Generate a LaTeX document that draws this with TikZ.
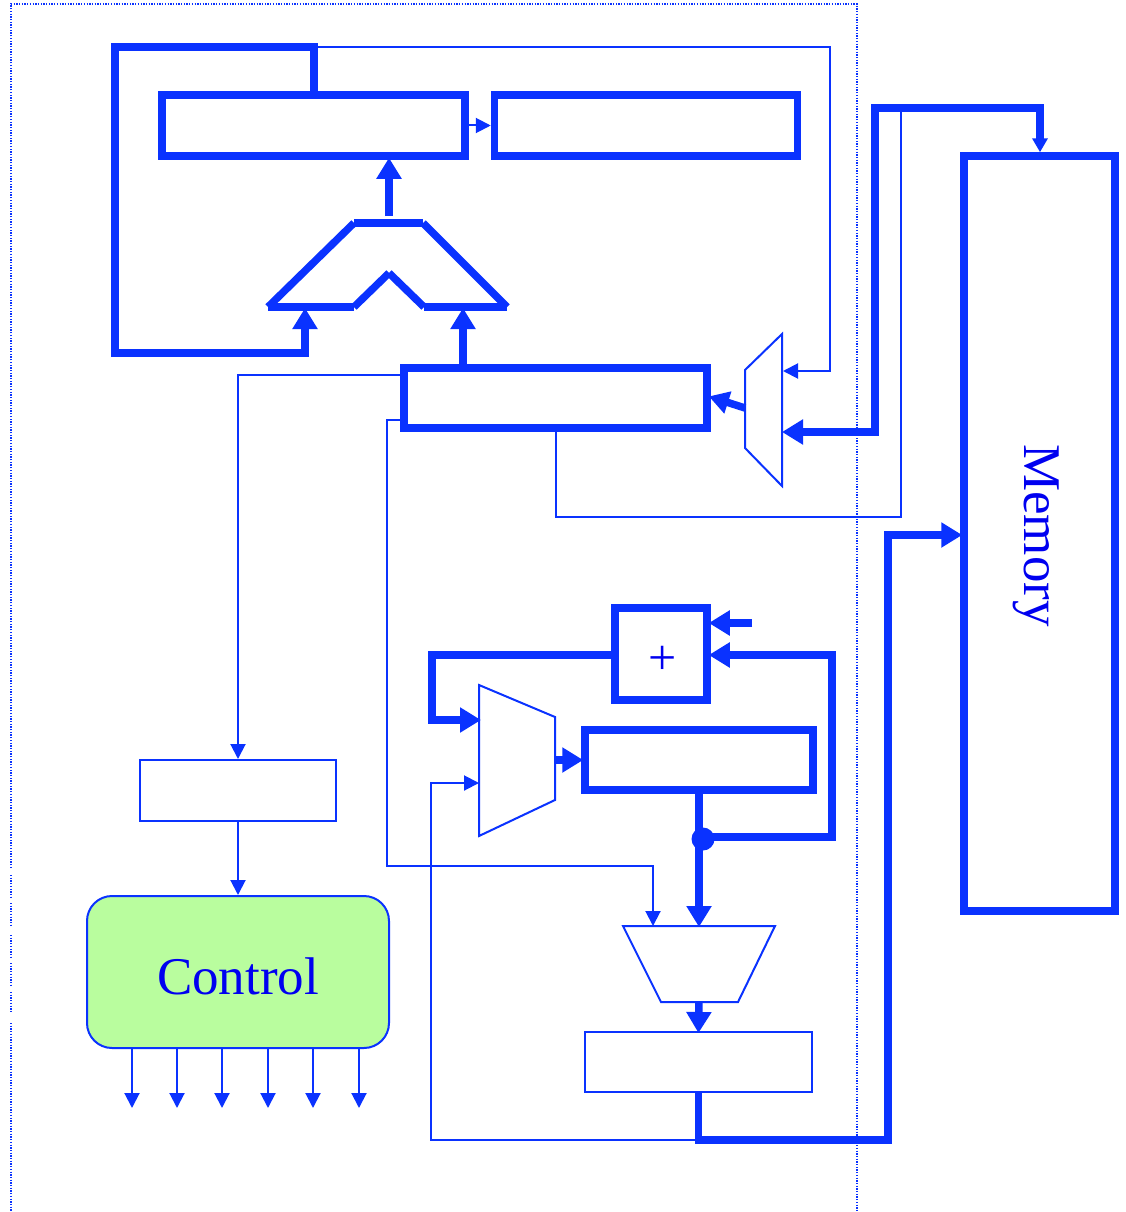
\documentclass[tikz,border=0pt]{standalone}
\usepackage{fontspec}
\setmainfont{Liberation Serif}
\usepackage{xcolor}
\usetikzlibrary{arrows.meta,positioning,calc}
\definecolor{Wire}{HTML}{0A32FF}
\definecolor{Label}{HTML}{0000F0}
\definecolor{CtrlFill}{HTML}{B9FD9E}
\begin{document}
\begin{tikzpicture}[
  x=1pt,y=-1pt,
  reg/.style={draw=Wire,line width=7.5pt,inner sep=0pt},
  thinreg/.style={draw=Wire,line width=2pt,inner sep=0pt},
  bus/.style={draw=Wire,line width=7.5pt},
  busarr/.style={bus,shorten >=-2pt,-{Triangle[length=21pt,width=24pt]}},
  wire/.style={draw=Wire,line width=2pt},
  wirearr/.style={wire,-{Triangle[length=15pt,width=15pt]}},
  bigtext/.style={font=\fontsize{53}{60}\selectfont,text=Label},
  frameline/.style={draw=Wire,line width=1.2pt,dash pattern=on 1.3pt off 1.4pt}]
\useasboundingbox (0,0) rectangle (1126,1212);
\draw[frameline] (11,868) -- (11,4) -- (857,4) -- (857,1212);
\foreach \a/\b in {875/897,903/925,935/958,963/987,992/1013,1023/1212}
  \draw[frameline] (11,\a) -- (11,\b);
% registers
\node[reg,minimum width=303pt,minimum height=61pt] (pc) at (313.5,125.5) {};
\node[reg,minimum width=303pt,minimum height=61pt,right=22pt of pc] (mar) {};
\node[reg,minimum width=303pt,minimum height=60pt] (mbr) at (555.5,398) {};
\node[reg,minimum width=151pt,minimum height=755pt] (mem) at (1039.5,533.5) {};
\node[bigtext,rotate=-90] (memlabel) at (1036,535.5) {Memory};
\node[reg,minimum width=92pt,minimum height=92pt] (adder) at (661,654) {};
\node[font=\fontsize{50}{60}\selectfont,text=Label] (plus) at (663,660) {+};
\node[reg,minimum width=228pt,minimum height=60pt] (acc) at (699,760) {};
\node[thinreg,minimum width=227pt,minimum height=60pt] (latch) at (698.5,1062) {};
\node[thinreg,minimum width=196pt,minimum height=61pt] (ir) at (238,790.5) {};
\node[thinreg,fill=CtrlFill,rounded corners=25pt,minimum width=302pt,minimum height=152pt,below=73pt of ir] (ctrl) {};
\node[bigtext] (ctrllabel) at ($(ctrl.center)+(0,4)$) {Control};
\node[circle,fill=Wire,minimum size=23pt,inner sep=0pt] (dot) at (703,839) {};
% alu on top
\coordinate (aluA) at (268,307);
\coordinate (aluB) at (354,223);
\coordinate (aluC) at (423,223);
\coordinate (aluD) at (507,307);
\coordinate (aluE) at (424,307);
\coordinate (aluF) at (389,273);
\coordinate (aluG) at (354,307);
\foreach \p/\q in {aluA/aluB,aluB/aluC,aluC/aluD,aluD/aluE,aluE/aluF,aluF/aluG,aluG/aluA}
  \draw[bus] (\p) -- (\q);
% the two thin muxes and the lower alu
\coordinate (muxa1) at (745,370);
\coordinate (muxa2) at (782,334);
\coordinate (muxa3) at (782,486);
\coordinate (muxa4) at (745,448);
\draw[wire] (muxa1) -- (muxa2) -- (muxa3) -- (muxa4) -- cycle;
\coordinate (muxb1) at (479,685);
\coordinate (muxb2) at (555,717);
\coordinate (muxb3) at (555,800);
\coordinate (muxb4) at (479,836);
\draw[wire] (muxb1) -- (muxb2) -- (muxb3) -- (muxb4) -- cycle;
\coordinate (alub1) at (623,926);
\coordinate (alub2) at (775,926);
\coordinate (alub3) at (738,1002);
\coordinate (alub4) at (661,1002);
\draw[wire] (alub1) -- (alub2) -- (alub3) -- (alub4) -- cycle;
% thick connections
\coordinate (loopt) at (115,47);
\coordinate (loopb) at (115,353);
\coordinate (aluin1) at (305,310);
\coordinate (aluin2) at (463,310);
\coordinate (aluout) at (389,216);
\draw[busarr] (pc.north -| 314,0) -- (314,47) -- (loopt) -- (loopb) -- (305,353) -- (aluin1);
\draw[busarr] (aluout) -- (aluout |- pc.south);
\draw[busarr] (aluin2 |- mbr.north) -- (aluin2);
\draw[busarr,-{Triangle[length=20pt,width=22pt]}] (745,408) -- (mbr.east |- 0,397);
\coordinate (rdup) at (875,108);
\coordinate (rdtop) at (1040,108);
\coordinate (rdb) at (875,432);
\draw[busarr] (rdup) -- (rdb) -- (784,432);
\draw[bus,-{Triangle[length=14pt,width=15pt]}] (rdb) -- (rdup) -- (rdtop) -- (rdtop |- mem.north);
\coordinate (wrb) at (888,1140);
\coordinate (wrt) at (888,535);
\draw[busarr] (latch.south) -- (698.5,1140) -- (wrb) -- (wrt) -- (wrt -| mem.west);
\draw[busarr] (adder.west |- 0,655) -- (432,655) -- (432,720) -- (muxb1 |- 0,720);
\draw[busarr] (555,760) -- (acc.west);
\draw[busarr] (acc.south -| 699,0) -- (699,925);
\draw[busarr] (dot.center |- 0,837) -- (832,837) -- (832,655) -- (adder.east |- 0,655);
\coordinate (stub) at (752,623);
\draw[busarr] (stub) -- (stub -| adder.east);
\draw[busarr] (699,1002) -- (latch.north);
% thin connections
\draw[wirearr] (pc.east) -- (mar.west);
\draw[wirearr] (314,47) -- (830,47) -- (830,371) -- (783,371);
\draw[wirearr] (mbr.west |- 0,375) -- (238,375) -- (ir.north);
\draw[wirearr] (ir.south) -- (ctrl.north);
\draw[wirearr] (mbr.west |- 0,420) -- (387,420) -- (387,866) -- (653,866) -- (653,926);
\draw[wire] (mbr.south) -- (555.5,517) -- (901,517) -- (901,108);
\draw[wirearr] (698.5,1140) -- (431,1140) -- (431,783) -- (479,783);
\foreach \i/\x in {1/132,2/177,3/222,4/268,5/313,6/359}{
  \coordinate (out\i) at (\x,1108);
  \draw[wirearr] (out\i |- ctrl.south) -- (out\i);
}
\end{tikzpicture}
\end{document}
